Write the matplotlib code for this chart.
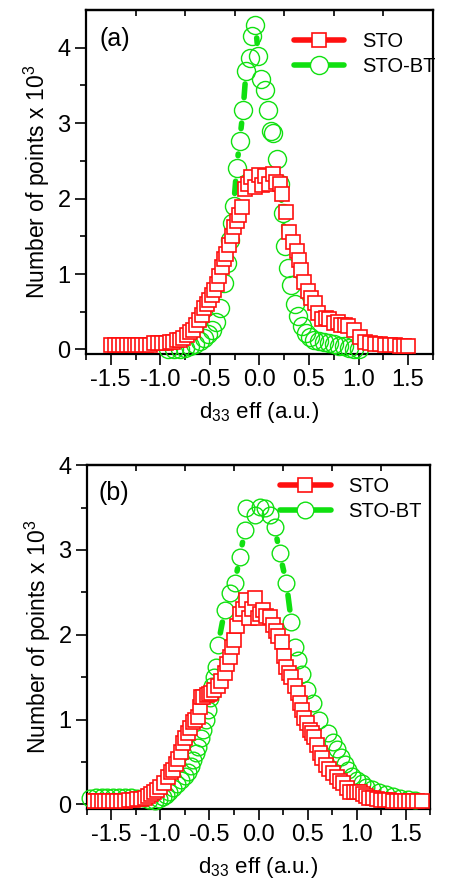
#!/usr/bin/env python3
import numpy as np
import matplotlib
matplotlib.use("Agg")
import matplotlib.pyplot as plt
from matplotlib.lines import Line2D

plt.rcParams['font.family'] = ['Liberation Sans', 'DejaVu Sans']
plt.rcParams['mathtext.fontset'] = 'custom'
plt.rcParams['mathtext.rm'] = 'Liberation Sans'
plt.rcParams['mathtext.it'] = 'Liberation Sans:italic'

RED = '#ff1010'
GREEN = '#10e010'

# ---- panel (a) ----
sto_a_x = [-1.50, -1.46, -1.42, -1.38, -1.34, -1.30, -1.26, -1.22, -1.18, -1.14,
           -1.10, -1.06, -1.02, -0.98, -0.94, -0.90, -0.87, -0.83, -0.80, -0.77,
           -0.73, -0.70, -0.67, -0.64, -0.61, -0.58, -0.555, -0.53, -0.51, -0.48,
           -0.455, -0.43, -0.41, -0.38, -0.355, -0.34, -0.31, -0.28, -0.255, -0.23,
           -0.21, -0.18, -0.15, -0.12, -0.08, -0.04, 0.0, 0.03, 0.06, 0.10,
           0.14, 0.17, 0.205, 0.225, 0.265, 0.30, 0.335, 0.375, 0.40, 0.42,
           0.45, 0.49, 0.52, 0.565, 0.595, 0.635, 0.67, 0.70, 0.75, 0.79,
           0.82, 0.86, 0.89, 0.95, 1.01, 1.07, 1.12, 1.17, 1.22, 1.27,
           1.32, 1.37, 1.42, 1.46, 1.50]
sto_a_y = [0.06, 0.06, 0.06, 0.06, 0.06, 0.06, 0.06, 0.06, 0.06, 0.06,
           0.06, 0.08, 0.08, 0.08, 0.09, 0.10, 0.10, 0.12, 0.13, 0.15,
           0.19, 0.23, 0.26, 0.32, 0.39, 0.46, 0.55, 0.60, 0.66, 0.72,
           0.79, 0.87, 0.97, 1.10, 1.20, 1.27, 1.38, 1.50, 1.63, 1.70,
           1.78, 1.89, 2.13, 2.20, 2.29, 2.15, 2.31, 2.18, 2.30, 2.20,
           2.32, 2.22, 2.20, 2.06, 1.82, 1.56, 1.42, 1.30, 1.19, 1.06,
           0.90, 0.77, 0.68, 0.62, 0.49, 0.40, 0.42, 0.40, 0.35, 0.36,
           0.33, 0.33, 0.31, 0.26, 0.17, 0.10, 0.08, 0.07, 0.07, 0.06,
           0.06, 0.06, 0.05, 0.05, 0.05]

stobt_a_x = [-0.92, -0.86, -0.80, -0.75, -0.70, -0.65, -0.60, -0.56, -0.52, -0.48,
             -0.44, -0.40, -0.36, -0.33, -0.30, -0.28, -0.26, -0.23, -0.20, -0.165,
             -0.135, -0.10, -0.07, -0.04, -0.01, 0.02, 0.055, 0.085, 0.115, 0.14,
             0.175, 0.205, 0.235, 0.26, 0.29, 0.32, 0.36, 0.39, 0.43, 0.47,
             0.51, 0.55, 0.60, 0.65, 0.70, 0.75, 0.80, 0.85, 0.90, 0.95, 1.00]
stobt_a_y = [0.0, 0.005, 0.01, 0.02, 0.04, 0.07, 0.11, 0.15, 0.20, 0.26,
             0.36, 0.55, 0.88, 1.15, 1.45, 1.68, 1.90, 2.40, 2.76, 3.17,
             3.69, 3.86, 4.15, 4.30, 3.89, 3.59, 3.44, 3.17, 2.90, 2.87,
             2.53, 2.20, 1.81, 1.37, 1.08, 0.86, 0.60, 0.44, 0.31, 0.22,
             0.16, 0.13, 0.11, 0.10, 0.08, 0.07, 0.05, 0.04, 0.02, 0.01, 0.0]

# ---- panel (b) ----
sto_b_x = [-1.72, -1.68, -1.64, -1.60, -1.56, -1.52, -1.48, -1.44, -1.40, -1.36,
           -1.32, -1.28, -1.24, -1.20, -1.16, -1.13, -1.10, -1.07, -1.04, -1.00,
           -0.96, -0.92, -0.89, -0.87, -0.84, -0.82, -0.79, -0.77, -0.745, -0.72,
           -0.70, -0.67, -0.645, -0.62, -0.60, -0.585, -0.565, -0.53, -0.50, -0.48,
           -0.45, -0.41, -0.38, -0.345, -0.32, -0.295, -0.27, -0.245, -0.22, -0.19,
           -0.16, -0.125, -0.10, -0.07, -0.04, -0.01, 0.02, 0.045, 0.08, 0.115,
           0.15, 0.18, 0.20, 0.235, 0.26, 0.285, 0.31, 0.335, 0.37, 0.40,
           0.42, 0.44, 0.465, 0.49, 0.52, 0.545, 0.57, 0.60, 0.625, 0.65,
           0.69, 0.72, 0.76, 0.80, 0.83, 0.86, 0.90, 0.93, 0.97, 1.00,
           1.03, 1.07, 1.10, 1.13, 1.17, 1.21, 1.25, 1.29, 1.33, 1.37,
           1.41, 1.45, 1.49, 1.53, 1.57, 1.62, 1.67]
sto_b_y = [0.04, 0.04, 0.04, 0.04, 0.04, 0.04, 0.04, 0.04, 0.04, 0.04,
           0.05, 0.05, 0.06, 0.06, 0.08, 0.10, 0.12, 0.14, 0.17, 0.21,
           0.25, 0.32, 0.38, 0.40, 0.48, 0.54, 0.62, 0.72, 0.78, 0.84,
           0.90, 0.97, 1.00, 1.03, 1.15, 1.27, 1.27, 1.29, 1.30, 1.31,
           1.35, 1.39, 1.45, 1.55, 1.65, 1.74, 1.85, 1.94, 2.10, 2.25,
           2.30, 2.41, 2.20, 2.30, 2.43, 2.20, 2.25, 2.29, 2.22, 2.21,
           2.12, 2.04, 1.98, 1.92, 1.75, 1.62, 1.55, 1.50, 1.40, 1.31,
           1.20, 1.11, 1.02, 0.96, 0.88, 0.84, 0.80, 0.70, 0.60, 0.55,
           0.46, 0.42, 0.37, 0.32, 0.28, 0.25, 0.19, 0.15, 0.15, 0.14,
           0.14, 0.12, 0.10, 0.08, 0.07, 0.06, 0.05, 0.05, 0.05, 0.04,
           0.04, 0.04, 0.04, 0.04, 0.04, 0.04, 0.04]

stobt_b_x = [-1.72, -1.66, -1.60, -1.54, -1.48, -1.42, -1.36, -1.30, -1.24, -1.18,
             -1.12, -1.06, -1.01, -0.97, -0.94, -0.91, -0.87, -0.83, -0.79, -0.75,
             -0.72, -0.69, -0.67, -0.64, -0.62, -0.59, -0.57, -0.54, -0.515, -0.49,
             -0.47, -0.45, -0.43, -0.413, -0.345, -0.294, -0.243, -0.19, -0.14, -0.124,
             -0.04, 0.012, 0.063, 0.114, 0.165, 0.216, 0.284, 0.335, 0.37, 0.40,
             0.44, 0.49, 0.555, 0.62, 0.71, 0.76, 0.80, 0.845, 0.88, 0.91,
             0.95, 1.00, 1.05, 1.10, 1.16, 1.23, 1.30, 1.37, 1.44, 1.52, 1.60]
stobt_b_y = [0.08, 0.09, 0.09, 0.09, 0.09, 0.09, 0.09, 0.09, 0.08, 0.07,
             0.05, 0.04, 0.06, 0.09, 0.11, 0.15, 0.19, 0.24, 0.29, 0.33,
             0.38, 0.45, 0.52, 0.60, 0.68, 0.78, 0.88, 1.00, 1.11, 1.25,
             1.40, 1.50, 1.62, 1.88, 2.29, 2.49, 2.61, 2.92, 3.23, 3.49,
             3.41, 3.51, 3.49, 3.41, 3.27, 2.96, 2.61, 2.15, 1.86, 1.70,
             1.54, 1.35, 1.19, 0.99, 0.84, 0.74, 0.65, 0.56, 0.48, 0.40,
             0.34, 0.29, 0.25, 0.21, 0.18, 0.15, 0.12, 0.10, 0.08, 0.06, 0.05]

xticks_a = [-1.5, -1.0, -0.5, 0.0, 0.5, 1.0, 1.5]
xticks_b = [-1.5, -1.0, -0.5, 0.0, 0.5, 1.0, 1.5]
top_ticks = [-1.25, -0.75, -0.25, 0.25, 0.75, 1.25]
yticks = [0, 1, 2, 3, 4]

SQ_MS = 10.2   # points
LINE_W = 4.0


def gap_line(ax, x, y, half_px, color, square, z):
    # Origin style: line broken where it crosses a symbol
    pts = ax.transData.transform(np.column_stack([x, y]))
    inv = ax.transData.inverted()
    capr = LINE_W * 100 / 72 / 2
    for p0, p1 in zip(pts[:-1], pts[1:]):
        d = p1 - p0
        L = np.hypot(d[0], d[1])
        if L == 0:
            continue
        u = d / L
        g = half_px / max(abs(u[0]), abs(u[1])) if square else half_px
        g = g + capr + 1
        if L > 2 * g + 1:
            a = inv.transform(p0 + u * g)
            b = inv.transform(p1 - u * g)
            ax.plot([a[0], b[0]], [a[1], b[1]], color=color, lw=LINE_W,
                    solid_capstyle='round', zorder=z)


def style_axes(ax, xlim, ylim, xticks):
    ax.set_xlim(*xlim)
    ax.set_ylim(*ylim)
    ax.set_xticks(xticks)
    ax.set_xticklabels(['%.1f' % t for t in xticks])
    ax.set_xticks(np.arange(-1.75, 1.76, 0.25), minor=True)
    ax.set_yticks(yticks)
    ax.set_yticks(np.arange(0.5, ylim[1], 1.0), minor=True)
    ax.tick_params(which='major', direction='out', length=8, width=1.2,
                   labelsize=17, pad=3)
    ax.tick_params(which='minor', direction='out', length=4.5, width=1.2)
    ax.tick_params(top=False, right=False)
    for s in ax.spines.values():
        s.set_linewidth(1.6)
    sec = ax.secondary_xaxis('top')
    sec.set_xticks(top_ticks)
    sec.tick_params(direction='in', length=4, width=1.2, labeltop=False)
    sec.spines['top'].set_linewidth(1.6)
    ax.set_xlabel('d$_{33}$ eff (a.u.)', fontsize=16, labelpad=6)
    ax.set_ylabel('Number of points x 10$^{3}$', fontsize=16.5, labelpad=4)


def draw_panel(ax, sto_x, sto_y, bt_x, bt_y, ci_ms):
    sq_half = SQ_MS * 100 / 72 / 2
    ci_half = ci_ms * 100 / 72 / 2
    gap_line(ax, bt_x, bt_y, ci_half, GREEN, False, 2)
    ax.plot(bt_x, bt_y, ls='none', marker='o', ms=ci_ms, mfc='none',
            mec=GREEN, mew=1.0, zorder=3, clip_on=False)
    gap_line(ax, sto_x, sto_y, sq_half, RED, True, 4)
    ax.plot(sto_x, sto_y, ls='none', marker='s', ms=SQ_MS, mfc='white',
            mec=RED, mew=1.2, zorder=5)


def add_legend(ax, anchor, ci_ms):
    h1 = Line2D([], [], color=RED, lw=LINE_W, solid_capstyle='round',
                marker='s', ms=SQ_MS, mfc='white', mec=RED, mew=1.2)
    h2 = Line2D([], [], color=GREEN, lw=LINE_W, solid_capstyle='round',
                marker='o', ms=ci_ms, mfc='white', mec=GREEN, mew=1.0)
    ax.legend([h1, h2], ['STO', 'STO-BT'], loc='upper left',
              bbox_to_anchor=anchor, frameon=False, fontsize=14.5,
              handlelength=2.5, handletextpad=0.9, labelspacing=0.3,
              borderpad=0, borderaxespad=0)


fig = plt.figure(figsize=(4.5, 8.91), dpi=100)

ax1 = fig.add_axes([0.191, 0.6027, 0.771, 0.386])
style_axes(ax1, (-1.5, 1.5), (-0.06, 4.5), xticks_a)
draw_panel(ax1, sto_a_x, sto_a_y, stobt_a_x, stobt_a_y, 13.0)
add_legend(ax1, (0.6, 0.935), 13.0)
ax1.text(0.04, 0.915, '(a)', transform=ax1.transAxes, fontsize=18,
         va='center', ha='left')

ax2 = fig.add_axes([0.193, 0.092, 0.763, 0.386])
style_axes(ax2, (-1.75, 1.75), (-0.055, 4.0), xticks_b)
draw_panel(ax2, sto_b_x, sto_b_y, stobt_b_x, stobt_b_y, 12.0)
add_legend(ax2, (0.563, 0.965), 12.0)
ax2.text(0.035, 0.92, '(b)', transform=ax2.transAxes, fontsize=18,
         va='center', ha='left')

fig.savefig('out.png', dpi=100)
